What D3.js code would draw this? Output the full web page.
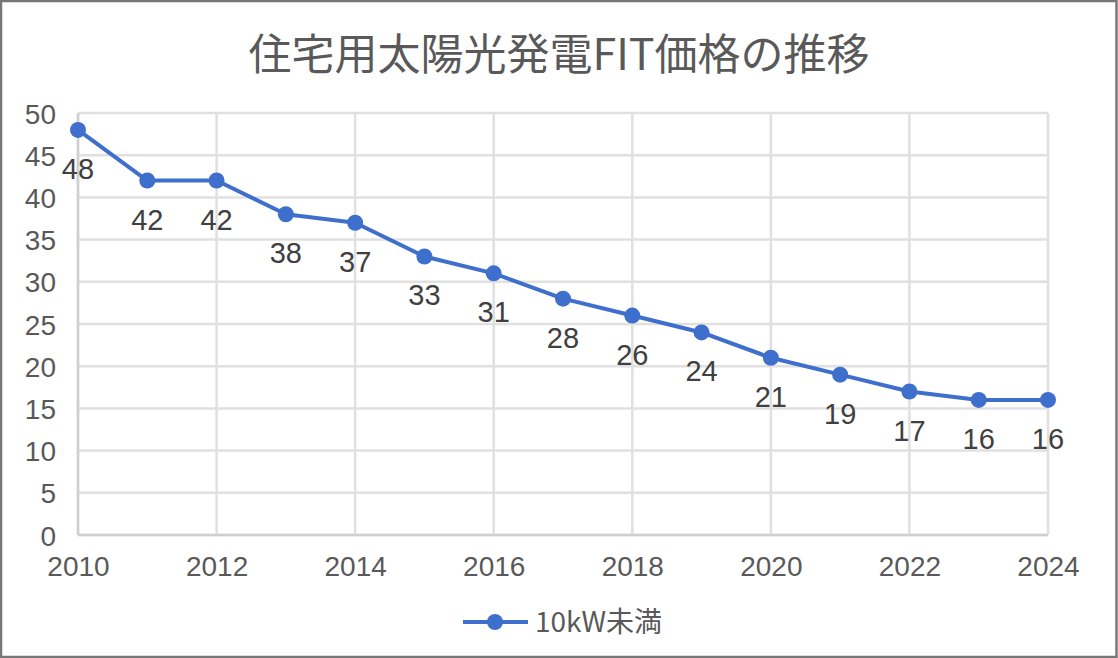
<!DOCTYPE html>
<html>
<head>
<meta charset="utf-8">
<script src="https://cdn.jsdelivr.net/npm/d3@7"></script>
<style>
  html, body { margin: 0; padding: 0; background: #fff; }
  svg { display: block; }
</style>
</head>
<body>
<svg id="chart" width="1118" height="658"></svg>
<script>
const title = "住宅用太陽光発電FIT価格の推移";
const seriesName = "10kW未満";
const years = [2010, 2011, 2012, 2013, 2014, 2015, 2016, 2017, 2018, 2019, 2020, 2021, 2022, 2023, 2024];
const prices = [48, 42, 42, 38, 37, 33, 31, 28, 26, 24, 21, 19, 17, 16, 16];
const yTicks = [0, 5, 10, 15, 20, 25, 30, 35, 40, 45, 50];
const xTicks = [2010, 2012, 2014, 2016, 2018, 2020, 2022, 2024];

const W = 1118, H = 658;
const svg = d3.select("#chart");
const blue = "#3f6fcc";
const fontNum = "'Liberation Sans', Arial, sans-serif";
const fontJP = "'Noto Sans CJK JP', sans-serif";

// frame
svg.append("rect").attr("x", 1).attr("y", 1).attr("width", W - 2.5).attr("height", H - 2)
  .attr("fill", "#fff").attr("stroke", "#777").attr("stroke-width", 2.5);

const x = d3.scaleLinear().domain([2010, 2024]).range([78, 1048]);
const y = d3.scaleLinear().domain([0, 50]).range([535, 113]);

// gridlines
const grid = svg.append("g");
grid.selectAll("line.h").data(yTicks).join("line")
  .attr("x1", x(2010)).attr("x2", x(2024))
  .attr("y1", d => y(d)).attr("y2", d => y(d))
  .attr("stroke", "#e0e0e0").attr("stroke-width", 2.5);
grid.selectAll("line.v").data(xTicks).join("line")
  .attr("x1", d => x(d)).attr("x2", d => x(d))
  .attr("y1", y(50)).attr("y2", y(0))
  .attr("stroke", "#e0e0e0").attr("stroke-width", 2.5);
// axis lines
svg.append("line").attr("x1", x(2010)).attr("x2", x(2010)).attr("y1", y(50)).attr("y2", y(0))
  .attr("stroke", "#cfcfcf").attr("stroke-width", 2.5);
svg.append("line").attr("x1", x(2010)).attr("x2", x(2024)).attr("y1", y(0)).attr("y2", y(0))
  .attr("stroke", "#cfcfcf").attr("stroke-width", 2.5);

// y axis labels via d3 axis
const yAxis = svg.append("g").attr("transform", `translate(${x(2010) - 22},0)`)
  .call(d3.axisLeft(y).tickValues(yTicks).tickSize(0).tickPadding(0));
yAxis.select(".domain").remove();
yAxis.selectAll("text").attr("font-family", fontNum).attr("font-size", 28)
  .attr("fill", "#595959").attr("dy", "0.36em");

const xAxis = svg.append("g").attr("transform", `translate(0,${y(0)})`)
  .call(d3.axisBottom(x).tickValues(xTicks).tickFormat(d3.format("d")).tickSize(0).tickPadding(0));
xAxis.select(".domain").remove();
xAxis.selectAll("text").attr("font-family", fontNum).attr("font-size", 28)
  .attr("fill", "#595959").attr("dy", null).attr("y", 41);

// title
svg.append("text").attr("x", 559).attr("y", 70).attr("text-anchor", "middle")
  .attr("font-family", fontJP).attr("font-size", 43).attr("fill", "#595959")
  .text(title);

// line
const data = years.map((yr, i) => ({ yr, v: prices[i] }));
svg.append("path").datum(data)
  .attr("d", d3.line().x(d => x(d.yr)).y(d => y(d.v)))
  .attr("fill", "none").attr("stroke", blue).attr("stroke-width", 4).attr("stroke-linejoin", "round");
svg.selectAll("circle.pt").data(data).join("circle")
  .attr("cx", d => x(d.yr)).attr("cy", d => y(d.v)).attr("r", 8).attr("fill", blue);

// data labels
svg.selectAll("text.lbl").data(data).join("text")
  .attr("x", d => x(d.yr)).attr("y", d => y(d.v) + 49)
  .attr("text-anchor", "middle")
  .attr("font-family", fontNum).attr("font-size", 29).attr("fill", "#404040")
  .text(d => d.v);

// legend
const lg = svg.append("g");
lg.append("line").attr("x1", 463).attr("x2", 528).attr("y1", 622).attr("y2", 622)
  .attr("stroke", blue).attr("stroke-width", 4);
lg.append("circle").attr("cx", 495).attr("cy", 622).attr("r", 8).attr("fill", blue);
lg.append("text").attr("x", 535).attr("y", 632).attr("font-family", fontJP)
  .attr("font-size", 28).attr("fill", "#595959").text(seriesName);
</script>
</body>
</html>
